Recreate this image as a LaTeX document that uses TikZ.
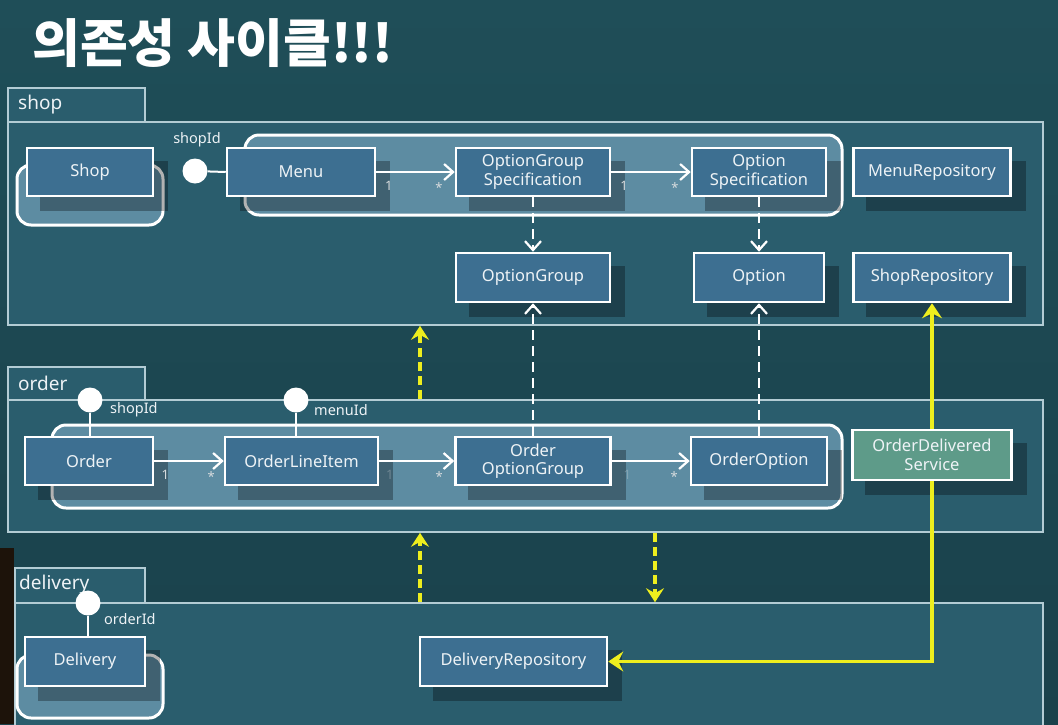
\documentclass[tikz,border=0pt]{standalone}
\usepackage{fontspec}
\setmainfont{Noto Sans}
\newfontfamily\krfont{Noto Sans CJK KR}
\usetikzlibrary{arrows.meta,calc}
\definecolor{bgA}{HTML}{1F4E58}
\definecolor{bgB}{HTML}{1A414B}
\definecolor{frameF}{HTML}{2A5D6D}
\definecolor{frameL}{HTML}{B3CCD4}
\definecolor{boxF}{HTML}{3D6F91}
\definecolor{aggF}{HTML}{6A98B0}
\definecolor{greenF}{HTML}{5E9B89}
\definecolor{yel}{HTML}{EEEE1E}
\definecolor{txt}{HTML}{EEF3F6}
\pgfdeclarelayer{back}\pgfdeclarelayer{shad}\pgfdeclarelayer{conn}
\pgfsetlayers{back,shad,conn,main}
\begin{document}
\begin{tikzpicture}[x=1pt,y=-1pt,
  frame/.style={draw=frameL,line width=1.6pt,fill=frameF,inner sep=0pt},
  tabtxt/.style={text=txt,font=\fontsize{19}{21}\selectfont,anchor=west,inner sep=0pt},
  agg/.style={draw=white,line width=3pt,rounded corners=14pt,fill=aggF,fill opacity=0.8},
  bx/.style={draw=white,line width=2.5pt,fill=boxF,text=txt,align=center,inner sep=0pt,
    font=\fontsize{16.5}{18.5}\selectfont},
  shadowc/.style={fill=black,opacity=0.3},
  port/.style={circle,fill=white,draw=none,minimum size=25pt,inner sep=0pt},
  lbl/.style={text=txt,font=\fontsize{14.5}{16}\selectfont,inner sep=0pt},
  mult/.style={text=txt!80!gray,font=\fontsize{13}{14}\selectfont,inner sep=0pt},
  wline/.style={draw=white,line width=2pt},
  warr/.style={draw=white,line width=2.2pt,-{Straight Barb[length=9pt,width=16pt]}},
  wdash/.style={draw=white,line width=2.5pt,dash pattern=on 10pt off 6pt,-{Straight Barb[length=9pt,width=16pt,line width=2.2pt]}},
  ydash/.style={draw=yel,line width=3.2pt,dash pattern=on 9pt off 5pt,-{Stealth[length=14pt,width=18pt,inset=5pt]}},
  ysolid/.style={draw=yel,line width=3.5pt,-{Stealth[length=15pt,width=20pt,inset=5pt]}}
]
\useasboundingbox (0,0) rectangle (1058,724);
\begin{pgfonlayer}{back}
\shade[top color=bgA,bottom color=bgB] (0,0) rectangle (1058,724);
\fill[black!85!brown] (0,548) rectangle (14,724);
% title
\node[anchor=west,inner sep=0pt,text=white,font=\krfont\bfseries\fontsize{52}{56}\selectfont] (title) at (32,43) {의존성 사이클!!!};
% packages
\node[frame,minimum width=137pt,minimum height=34pt] (shopT) at (76.5,105) {};
\node[tabtxt] (shopL) at (18,105) {shop};
\node[frame,minimum width=1035pt,minimum height=203pt] (shopF) at (525.5,223.5) {};
\node[frame,minimum width=137pt,minimum height=33pt] (orderT) at (76.5,383.5) {};
\node[tabtxt] (orderL) at (18,383) {order};
\node[frame,minimum width=1035pt,minimum height=132pt] (orderF) at (525.5,466) {};
\node[frame,minimum width=130pt,minimum height=35pt] (delT) at (80,585.5) {};
\node[tabtxt] (delL) at (19,585) {delivery};
\node[frame,minimum width=1028pt,minimum height=130pt] (delF) at (529,668) {};
% aggregates
\draw[agg] (17,165) rectangle (163,225);
\draw[agg] (245,135) rectangle (842,215);
\draw[agg] (52,425) rectangle (842,508);
\draw[agg] (17,655) rectangle (163,718);
\end{pgfonlayer}

% boxes
\node[bx,minimum width=126pt,minimum height=48pt] (shop) at (90,172) {Shop};
\node[bx,minimum width=148pt,minimum height=48pt] (menu) at (301,172) {Menu};
\node[bx,minimum width=154pt,minimum height=48pt] (ogs) at (533,172) {OptionGroup\\Specification};
\node[bx,minimum width=134pt,minimum height=48pt] (os) at (759,172) {Option\\Specification};
\node[bx,minimum width=157pt,minimum height=48pt] (menurepo) at (932,172) {MenuRepository};
\node[bx,minimum width=154pt,minimum height=49pt] (og) at (533,277.5) {OptionGroup};
\node[bx,minimum width=130pt,minimum height=49pt] (opt) at (759,277.5) {Option};
\node[bx,minimum width=157pt,minimum height=49pt] (shoprepo) at (932,277.5) {ShopRepository};
\node[bx,minimum width=128pt,minimum height=48pt] (order) at (89,461) {Order};
\node[bx,minimum width=153pt,minimum height=48pt] (oli) at (301.5,461) {OrderLineItem};
\node[bx,minimum width=155pt,minimum height=48pt] (oog) at (533,461) {Order\\OptionGroup};
\node[bx,minimum width=136pt,minimum height=48pt] (oo) at (759,461) {OrderOption};
\node[bx,fill=greenF,minimum width=159pt,minimum height=50pt] (ods) at (932,455) {OrderDelivered\\Service};
\node[bx,minimum width=120pt,minimum height=49pt] (delivery) at (85,661.5) {Delivery};
\node[bx,minimum width=187pt,minimum height=49pt] (delrepo) at (513.5,661.5) {DeliveryRepository};

% ports
\node[port] (p1) at (195,171) {};
\node[port] (p2) at (90,400) {};
\node[port] (p3) at (296,400) {};
\node[port] (p4) at (88,603) {};
\node[lbl] (p1l) at (197,140) {shopId};
\node[lbl,anchor=west] (p2l) at (110,410) {shopId};
\node[lbl,anchor=west] (p3l) at (314,410) {menuId};
\node[lbl,anchor=west] (p4l) at (104,619) {orderId};

\begin{pgfonlayer}{shad}
\foreach \n in {shop,menu,ogs,os,menurepo,og,opt,shoprepo,order,oli,oog,oo,ods,delivery,delrepo}{
  \fill[shadowc] ($(\n.south west)+(14,14)$) rectangle ($(\n.north east)+(14,14)$);
}
\end{pgfonlayer}

\begin{pgfonlayer}{conn}
% port links
\draw[wline] (p1) -- (menu.west);
\draw[wline] (p2) -- (p2 |- order.north);
\draw[wline] (p3) -- (p3 |- oli.north);
\draw[wline] (p4) -- (p4 |- delivery.north);
% associations
\draw[warr] (menu.east) -- (ogs.west)
  node[mult,pos=0.16,below=8pt] {1} node[mult,pos=0.8,below=10pt] {*};
\draw[warr] (ogs.east) -- (os.west)
  node[mult,pos=0.16,below=8pt] {1} node[mult,pos=0.8,below=10pt] {*};
\draw[warr] (order.east) -- (oli.west)
  node[mult,pos=0.16,below=8pt] {1} node[mult,pos=0.82,below=10pt] {*};
\draw[warr] (oli.east) -- (oog.west)
  node[mult,pos=0.14,below=8pt,text opacity=0.3] {1} node[mult,pos=0.8,below=10pt] {*};
\draw[warr] (oog.east) -- (oo.west)
  node[mult,pos=0.2,below=8pt,text opacity=0.3] {1} node[mult,pos=0.8,below=10pt] {*};
% dashed dependencies
\draw[wdash] (ogs.south) -- (og.north);
\draw[wdash] (os.south) -- (opt.north);
\draw[wdash] (oog.north) -- (og.south);
\draw[wdash] (oo.north) -- (opt.south);
% yellow dependencies
\coordinate (ya) at (420,0);
\coordinate (yb) at (655,0);
\draw[ydash] (ya |- orderF.north) -- (ya |- shopF.south);
\draw[ydash] (ya |- delF.north) -- (ya |- orderF.south);
\draw[ydash] (yb |- orderF.south) -- (yb |- delF.north);
\draw[ysolid] (ods.north) -- (shoprepo.south);
\draw[ysolid] (ods.south) |- (delrepo.east);
\end{pgfonlayer}
\end{tikzpicture}
\end{document}
